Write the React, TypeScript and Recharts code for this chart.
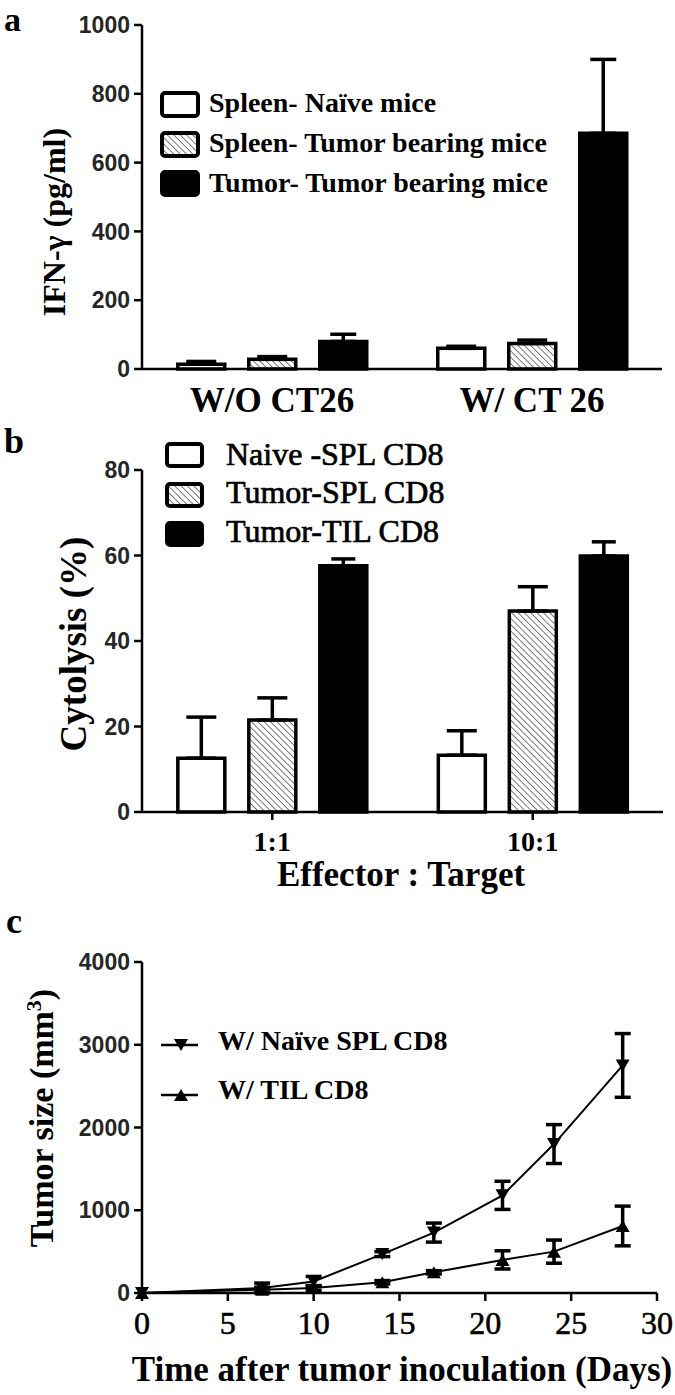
import React from 'react';
import { BarChart, Bar, XAxis, YAxis, ErrorBar, LineChart, Line } from 'recharts';

const SERIF = '"Liberation Serif", "Times New Roman", serif';
const SANS = '"Liberation Sans", Arial, sans-serif';

// ---------- Panel a : IFN-gamma ----------
const aCategories = ['W/O CT26', 'W/ CT 26'];
const aSeriesNames = ['Spleen- Naïve mice', 'Spleen- Tumor bearing mice', 'Tumor- Tumor bearing mice'];
const aNaive = [14, 60];
const aNaiveErr = [8, 6];
const aSpleenTumor = [28, 74];
const aSpleenTumorErr = [8, 10];
const aTumor = [80, 685];
const aTumorErr = [21, 215];
const aTicks = [0, 200, 400, 600, 800, 1000];

// ---------- Panel b : Cytolysis ----------
const bCategories = ['1:1', '10:1'];
const bSeriesNames = ['Naive -SPL CD8', 'Tumor-SPL CD8', 'Tumor-TIL CD8'];
const bNaive = [12.6, 13.3];
const bNaiveErr = [9.6, 5.7];
const bTumorSpl = [21.5, 47];
const bTumorSplErr = [5.2, 5.7];
const bTil = [57.6, 59.9];
const bTilErr = [1.6, 3.3];
const bTicks = [0, 20, 40, 60, 80];

// ---------- Panel c : Tumor size ----------
const cSeriesNames = ['W/ Naïve SPL CD8', 'W/ TIL CD8'];
const cDays = [0, 7, 10, 14, 17, 21, 24, 28];
const cNaive = [0, 60, 140, 470, 730, 1180, 1800, 2750];
const cNaiveErr = [0, 60, 60, 30, 115, 170, 235, 385];
const cTil = [0, 40, 60, 130, 250, 400, 500, 810];
const cTilErr = [0, 30, 30, 20, 20, 110, 140, 240];
const cXTicks = [0, 5, 10, 15, 20, 25, 30];
const cYTicks = [0, 1000, 2000, 3000, 4000];

const aData = aCategories.map((cat, i) => ({
  cat,
  naive: aNaive[i], naiveErr: [0, aNaiveErr[i]],
  spl: aSpleenTumor[i], splErr: [0, aSpleenTumorErr[i]],
  tum: aTumor[i], tumErr: [0, aTumorErr[i]],
}));

const bData = bCategories.map((cat, i) => ({
  cat,
  naive: bNaive[i], naiveErr: [0, bNaiveErr[i]],
  spl: bTumorSpl[i], splErr: [0, bTumorSplErr[i]],
  til: bTil[i], tilErr: [0, bTilErr[i]],
}));

const cData = cDays.map((day, i) => ({
  day,
  naive: cNaive[i], naiveErr: cNaiveErr[i],
  til: cTil[i], tilErr: cTilErr[i],
}));

const yTick = { fill: '#262626', fontFamily: SANS, fontSize: 23, fontWeight: 700 };
const axisLine = { stroke: '#000', strokeWidth: 2.5 };
const tickLine = { stroke: '#000', strokeWidth: 2.5 };

const triDown = (cx: number, cy: number, s = 7) =>
  `${cx - s},${cy - 6} ${cx + s},${cy - 6} ${cx},${cy + 6}`;
const triUp = (cx: number, cy: number, s = 7) =>
  `${cx - s},${cy + 6} ${cx + s},${cy + 6} ${cx},${cy - 6}`;

const DownDot = (props: any) => {
  const { cx, cy, index } = props;
  if (cx == null || cy == null) return <g key={`dd-${index}`} />;
  return <polygon key={`dd-${index}`} points={triDown(cx, cy)} fill="#000" />;
};
const UpDot = (props: any) => {
  const { cx, cy, index } = props;
  if (cx == null || cy == null) return <g key={`ud-${index}`} />;
  return <polygon key={`ud-${index}`} points={triUp(cx, cy)} fill="#000" />;
};

const barFills = ['#fff', 'url(#hatch)', '#000'];

function Swatch({ x, y, w, h, fill }: { x: number; y: number; w: number; h: number; fill: string }) {
  return <rect x={x} y={y} width={w} height={h} rx={3} fill={fill} stroke="#000" strokeWidth={4} />;
}

export default function App() {
  return (
    <div style={{ position: 'absolute', left: 0, top: 0, width: 675, height: 1395, background: '#fff' }}>
      {/* Panel a */}
      <div style={{ position: 'absolute', left: 0, top: 0 }}>
        <BarChart width={675} height={430} data={aData}
          margin={{ top: 25, right: 13, left: 0, bottom: 11 }}
          barCategoryGap="13.75%" barGap={24}>
          <XAxis dataKey="cat" interval={0} height={50} axisLine={axisLine} tickLine={false}
            tickSize={0} tickMargin={18}
            tick={{ fill: '#000', fontFamily: SERIF, fontSize: 35, fontWeight: 700 }} />
          <YAxis type="number" domain={[0, 1000]} ticks={aTicks} interval={0} width={142}
            axisLine={axisLine} tickLine={tickLine} tickSize={8} tickMargin={4} tick={yTick} />
          <Bar dataKey="naive" fill={barFills[0]} stroke="#000" strokeWidth={3.5} isAnimationActive={false}>
            <ErrorBar dataKey="naiveErr" direction="y" width={15} stroke="#000" strokeWidth={3.5} />
          </Bar>
          <Bar dataKey="spl" fill={barFills[1]} stroke="#000" strokeWidth={3.5} isAnimationActive={false}>
            <ErrorBar dataKey="splErr" direction="y" width={15} stroke="#000" strokeWidth={3.5} />
          </Bar>
          <Bar dataKey="tum" fill={barFills[2]} stroke="#000" strokeWidth={3.5} isAnimationActive={false}>
            <ErrorBar dataKey="tumErr" direction="y" width={13} stroke="#000" strokeWidth={3.5} />
          </Bar>
        </BarChart>
      </div>

      {/* Panel b */}
      <div style={{ position: 'absolute', left: 0, top: 420 }}>
        <BarChart width={675} height={480} data={bData}
          margin={{ top: 50, right: 12, left: 0, bottom: 48 }}
          barCategoryGap="13.75%" barGap={24}>
          <XAxis dataKey="cat" interval={0} height={40} axisLine={axisLine} tickLine={tickLine}
            tickSize={8} tickMargin={11}
            tick={{ fill: '#000', fontFamily: SERIF, fontSize: 28, fontWeight: 700 }} />
          <YAxis type="number" domain={[0, 80]} ticks={bTicks} interval={0} width={142}
            axisLine={axisLine} tickLine={tickLine} tickSize={8} tickMargin={4} tick={yTick} />
          <Bar dataKey="naive" fill={barFills[0]} stroke="#000" strokeWidth={3.5} isAnimationActive={false}>
            <ErrorBar dataKey="naiveErr" direction="y" width={15} stroke="#000" strokeWidth={3.5} />
          </Bar>
          <Bar dataKey="spl" fill={barFills[1]} stroke="#000" strokeWidth={3.5} isAnimationActive={false}>
            <ErrorBar dataKey="splErr" direction="y" width={15} stroke="#000" strokeWidth={3.5} />
          </Bar>
          <Bar dataKey="til" fill={barFills[2]} stroke="#000" strokeWidth={3.5} isAnimationActive={false}>
            <ErrorBar dataKey="tilErr" direction="y" width={12} stroke="#000" strokeWidth={3.5} />
          </Bar>
        </BarChart>
      </div>

      {/* Panel c */}
      <div style={{ position: 'absolute', left: 0, top: 940 }}>
        <LineChart width={675} height={455} data={cData}
          margin={{ top: 22, right: 18, left: 0, bottom: 52 }}>
          <XAxis type="number" dataKey="day" domain={[0, 30]} ticks={cXTicks} interval={0} height={50}
            axisLine={axisLine} tickLine={tickLine} tickSize={8} tickMargin={10}
            tick={{ fill: '#000', fontFamily: SERIF, fontSize: 32, fontWeight: 400, stroke: '#000', strokeWidth: 0.6 }} />
          <YAxis type="number" domain={[0, 4000]} ticks={cYTicks} interval={0} width={142}
            axisLine={axisLine} tickLine={tickLine} tickSize={8} tickMargin={4} tick={yTick} />
          <Line dataKey="naive" type="linear" stroke="#000" strokeWidth={2} isAnimationActive={false}
            dot={(p: any) => <DownDot {...p} key={`dn-${p.index}`} />} activeDot={false}>
            <ErrorBar dataKey="naiveErr" direction="y" width={8} stroke="#000" strokeWidth={3.5} />
          </Line>
          <Line dataKey="til" type="linear" stroke="#000" strokeWidth={2} isAnimationActive={false}
            dot={(p: any) => <UpDot {...p} key={`up-${p.index}`} />} activeDot={false}>
            <ErrorBar dataKey="tilErr" direction="y" width={8} stroke="#000" strokeWidth={3.5} />
          </Line>
        </LineChart>
      </div>

      {/* Text and legend overlay */}
      <svg width={675} height={1395} style={{ position: 'absolute', left: 0, top: 0, pointerEvents: 'none' }}>
        <defs>
          <pattern id="hatch" patternUnits="userSpaceOnUse" width={4.5} height={4.5} patternTransform="rotate(-45)">
            <rect width={4.5} height={4.5} fill="#fff" />
            <line x1={0} y1={0} x2={0} y2={4.5} stroke="#333" strokeWidth={1.3} />
          </pattern>
        </defs>

        {/* panel letters */}
        <text x={4} y={31} fontFamily={SERIF} fontSize={34} fontWeight={700}>a</text>
        <text x={4} y={453} fontFamily={SERIF} fontSize={36} fontWeight={700}>b</text>
        <text x={6} y={933} fontFamily={SERIF} fontSize={36} fontWeight={700}>c</text>

        {/* axis titles */}
        <text transform="translate(65,222) rotate(-90)" textAnchor="middle" fontFamily={SERIF} fontSize={32} fontWeight={700}>IFN-γ (pg/ml)</text>
        <text transform="translate(86,644) rotate(-90)" textAnchor="middle" fontFamily={SERIF} fontSize={37} fontWeight={700}>Cytolysis (%)</text>
        <text transform="translate(53,1118) rotate(-90)" textAnchor="middle" fontFamily={SERIF} fontSize={34} fontWeight={700}>
          Tumor size (mm<tspan dy={-12} fontSize={22}>3</tspan><tspan dy={12}>)</tspan>
        </text>
        <text x={401} y={886} textAnchor="middle" fontFamily={SERIF} fontSize={35} fontWeight={700}>Effector : Target</text>
        <text x={402} y={1381} textAnchor="middle" fontFamily={SERIF} fontSize={35} fontWeight={700}>Time after tumor inoculation (Days)</text>

        {/* legend a */}
        {aSeriesNames.map((name, i) => {
          const tops = [91, 131, 170];
          const bases = [112, 152, 192];
          return (
            <g key={name}>
              <Swatch x={162} y={tops[i] + 2} w={36} h={23} fill={barFills[i]} />
              <text x={209} y={bases[i]} fontFamily={SERIF} fontSize={28} fontWeight={700}>{name}</text>
            </g>
          );
        })}

        {/* legend b */}
        {bSeriesNames.map((name, i) => {
          const tops = [442, 482, 521];
          const bases = [465, 503, 542];
          return (
            <g key={name}>
              <Swatch x={167} y={tops[i] + 2} w={35} h={22} fill={barFills[i]} />
              <text x={226} y={bases[i]} fontFamily={SERIF} fontSize={32} fontWeight={400} stroke="#000" strokeWidth={0.7}>{name}</text>
            </g>
          );
        })}

        {/* legend c */}
        {cSeriesNames.map((name, i) => {
          const ly = [1045, 1095];
          const bases = [1050, 1099];
          return (
            <g key={name}>
              <line x1={161} y1={ly[i]} x2={198} y2={ly[i]} stroke="#000" strokeWidth={2.5} />
              <polygon points={i === 0 ? triDown(181, ly[i]) : triUp(181, ly[i])} fill="#000" />
              <text x={218} y={bases[i]} fontFamily={SERIF} fontSize={28} fontWeight={700}>{name}</text>
            </g>
          );
        })}
      </svg>
    </div>
  );
}
